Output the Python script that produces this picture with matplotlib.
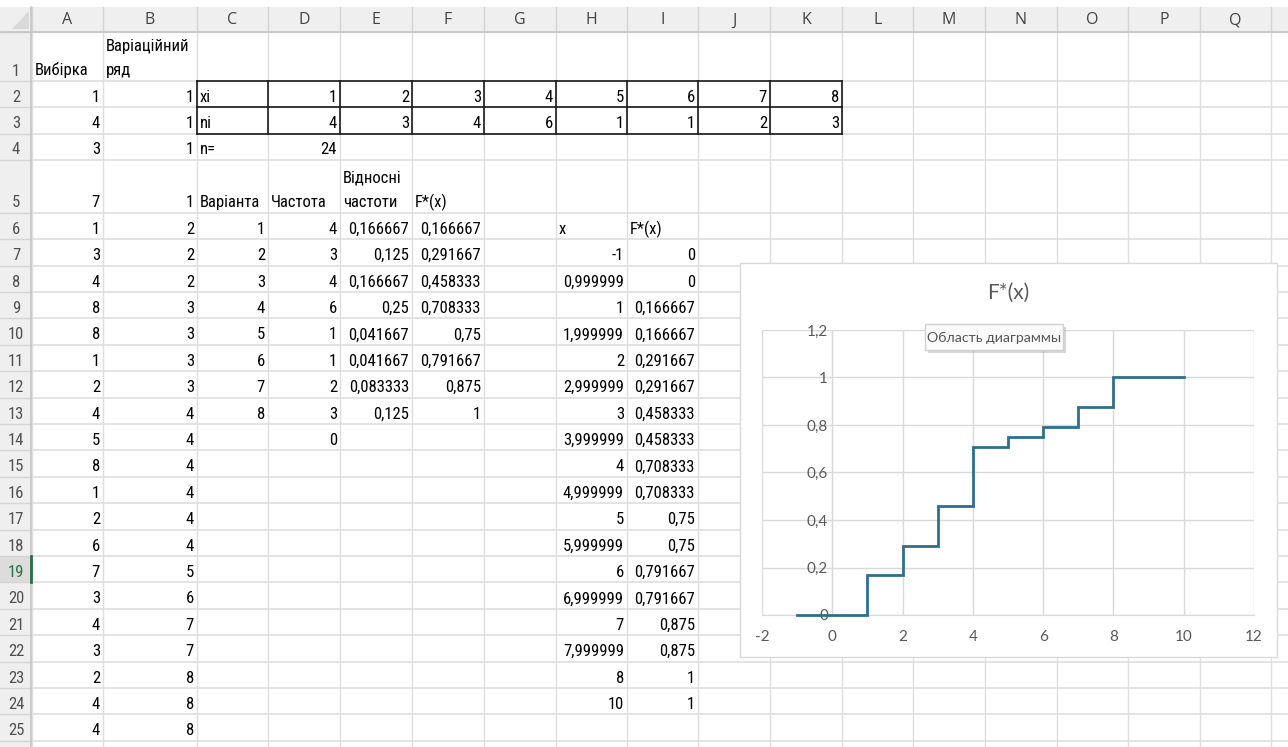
import matplotlib
matplotlib.use("Agg")
import matplotlib.pyplot as plt
from matplotlib.patches import Rectangle, Polygon
from matplotlib.ticker import FuncFormatter

# ---- worksheet contents -------------------------------------------------
col_letters = list("ABCDEFGHIJKLMNOPQ")

sample = [1, 4, 3, 7, 1, 3, 4, 8, 8, 1, 2, 4, 5, 8, 1, 2, 6, 7, 3, 4, 3, 2, 4, 4]
variation_series = [1, 1, 1, 1, 2, 2, 2, 3, 3, 3, 3, 4, 4, 4, 4, 4, 4, 5, 6, 7, 7, 8, 8, 8]

xi = [1, 2, 3, 4, 5, 6, 7, 8]
ni = [4, 3, 4, 6, 1, 1, 2, 3]
n_total = 24

variants = [1, 2, 3, 4, 5, 6, 7, 8]
frequencies = [4, 3, 4, 6, 1, 1, 2, 3, 0]
rel_freq = [0.166667, 0.125, 0.166667, 0.25, 0.041667, 0.041667, 0.083333, 0.125]
cum_freq = [0.166667, 0.291667, 0.458333, 0.708333, 0.75, 0.791667, 0.875, 1]

# points of the empirical distribution function
step_x = [-1, 0.999999, 1, 1.999999, 2, 2.999999, 3, 3.999999, 4, 4.999999,
          5, 5.999999, 6, 6.999999, 7, 7.999999, 8, 10]
step_f = [0, 0, 0.166667, 0.166667, 0.291667, 0.291667, 0.458333, 0.458333,
          0.708333, 0.708333, 0.75, 0.75, 0.791667, 0.791667, 0.875, 0.875, 1, 1]

x_ticks = [-2, 0, 2, 4, 6, 8, 10, 12]
y_ticks = [0, 0.2, 0.4, 0.6, 0.8, 1.0, 1.2]

# ---- grid geometry (pixels) --------------------------------------------
W, H = 1288, 747
col_edges = [32, 103, 197, 268, 340, 412, 484, 556, 627, 698, 770, 842,
             913, 985, 1057, 1128, 1200, 1271]
row_heights = [49, 26.3, 26.3, 26.3, 53] + [26.4] * 21
row_edges = [32]
for h in row_heights:
    row_edges.append(row_edges[-1] + h)
HEAD_TOP = 7

CELL_FONT = ["Liberation Sans Narrow", "Roboto Condensed", "Liberation Sans", "DejaVu Sans"]
HEAD_FONT = ["Open Sans", "DejaVu Sans"]
CHART_FONT = ["Lato", "DejaVu Sans"]


def fmt_general(v):
    s = f"{v:.6f}".rstrip("0").rstrip(".")
    return s.replace(".", ",")


fig = plt.figure(figsize=(W / 100, H / 100), dpi=100)
sheet = fig.add_axes([0, 0, 1, 1])
sheet.set_xlim(0, W)
sheet.set_ylim(H, 0)
sheet.axis("off")

head_bg = "#efefef"
grid_c = "#dedede"
# header strips
sheet.add_patch(Rectangle((0, HEAD_TOP), W, 32 - HEAD_TOP, facecolor=head_bg, edgecolor="none", zorder=1))
sheet.add_patch(Rectangle((0, 32), 31, H - 32, facecolor=head_bg, edgecolor="none", zorder=1))
# corner triangle
sheet.add_patch(Polygon([[29, 11], [29, 29], [12, 29]], closed=True, facecolor="#d9d9d9",
                        edgecolor="none", zorder=2))

# selected row header (row 19)
r19_top, r19_bot = row_edges[18], row_edges[19]
sheet.add_patch(Rectangle((0, r19_top), 31, r19_bot - r19_top, facecolor="#dcdcdc",
                          edgecolor="none", zorder=1.5))

# worksheet gridlines
for x in col_edges:
    sheet.plot([x, x], [32, H], color=grid_c, lw=1, zorder=2)
    sheet.plot([x, x], [HEAD_TOP, 32], color="#d4d4d4", lw=1, zorder=2)
for y in row_edges:
    sheet.plot([32, W], [y, y], color=grid_c, lw=1.2, zorder=2)
    sheet.plot([0, 31], [y, y], color="#d4d4d4", lw=1, zorder=2)
sheet.plot([0, W], [32, 32], color="#c4c4c4", lw=1.2, zorder=2.2)
sheet.plot([31.5, 31.5], [HEAD_TOP, H], color="#c4c4c4", lw=1.2, zorder=2.2)
sheet.plot([31.5, 31.5], [r19_top, r19_bot], color="#217346", lw=2, zorder=2.3)

# column letters and row numbers
for i, letter in enumerate(col_letters):
    cx = (col_edges[i] + col_edges[i + 1]) / 2
    sheet.text(cx, 20.5, letter, ha="center", va="center", fontsize=11.5,
               family=HEAD_FONT, color="#444444", zorder=3)
for r in range(25):
    bot = row_edges[r + 1]
    sheet.text(16, bot - 5.5, str(r + 1), ha="center", va="baseline", fontsize=12,
               family=CELL_FONT, color="#217346" if r == 18 else "#505050", zorder=3)


def put(col, row, text, align="right", line=0):
    """Write text into the cell at column index col (0 = A) and row number row."""
    bot = row_edges[row] - 5.5 - 25 * line
    if align == "right":
        x, ha = col_edges[col + 1] - 3, "right"
    else:
        x, ha = col_edges[col] + 3, "left"
    sheet.text(x, bot, text, ha=ha, va="baseline", fontsize=12, family=CELL_FONT,
               color="#000000", zorder=3)


# row 1 headings
put(0, 1, "Вибірка", "left")
put(1, 1, "Варіаційний", "left", line=1)
put(1, 1, "ряд", "left")

# columns A and B
for i, v in enumerate(sample):
    put(0, i + 2, fmt_general(v))
for i, v in enumerate(variation_series):
    put(1, i + 2, fmt_general(v))

# xi / ni table
put(2, 2, "xi", "left")
put(2, 3, "ni", "left")
for i, (a, b) in enumerate(zip(xi, ni)):
    put(3 + i, 2, fmt_general(a))
    put(3 + i, 3, fmt_general(b))
put(2, 4, "n=", "left")
put(3, 4, fmt_general(n_total))
tb_l, tb_r = col_edges[2], col_edges[11]
tb_t, tb_m, tb_b = row_edges[1], row_edges[2], row_edges[3]
for y in (tb_t, tb_m, tb_b):
    sheet.plot([tb_l, tb_r], [y, y], color="#1a1a1a", lw=1.2, zorder=2.5)
for x in col_edges[2:12]:
    sheet.plot([x, x], [tb_t, tb_b], color="#1a1a1a", lw=1.2, zorder=2.5)

# frequency table
put(2, 5, "Варіанта", "left")
put(3, 5, "Частота", "left")
put(4, 5, "Відносні", "left", line=1)
put(4, 5, "частоти", "left")
put(5, 5, "F*(x)", "left")
for i, v in enumerate(variants):
    put(2, 6 + i, fmt_general(v))
for i, v in enumerate(frequencies):
    put(3, 6 + i, fmt_general(v))
for i, v in enumerate(rel_freq):
    put(4, 6 + i, fmt_general(v))
for i, v in enumerate(cum_freq):
    put(5, 6 + i, fmt_general(v))

# step-function table
put(7, 6, "x", "left")
put(8, 6, "F*(x)", "left")
for i, (a, b) in enumerate(zip(step_x, step_f)):
    put(7, 7 + i, fmt_general(a))
    put(8, 7 + i, fmt_general(b))

# ---- embedded chart ------------------------------------------------------
CH_L, CH_T, CH_R, CH_B = 740, 263, 1277, 657
sheet.add_patch(Rectangle((CH_L, CH_T), CH_R - CH_L, CH_B - CH_T, facecolor="white",
                          edgecolor="#d9d9d9", lw=1, zorder=5))
sheet.text((CH_L + CH_R) / 2, 293, "F*(x)", ha="center", va="center", fontsize=15,
           family=CHART_FONT, color="#595959", zorder=6)

PL, PR, PT, PB = 762, 1254, 330, 615
ax = fig.add_axes([PL / W, 1 - PB / H, (PR - PL) / W, (PB - PT) / H])
ax.set_facecolor("none")
ax.set_xlim(-2, 12)
ax.set_ylim(0, 1.2)
ax.set_xticks(x_ticks)
ax.set_yticks(y_ticks)
comma = FuncFormatter(lambda v, p: fmt_general(round(v, 6)))
ax.xaxis.set_major_formatter(comma)
ax.yaxis.set_major_formatter(comma)
ax.grid(True, color="#d9d9d9", lw=1)
ax.set_axisbelow(True)
for side in ("top", "right"):
    ax.spines[side].set_visible(False)
ax.spines["left"].set_position(("data", 0))
ax.spines["left"].set_color("#d9d9d9")
ax.spines["bottom"].set_color("#d9d9d9")
ax.tick_params(length=0, colors="#595959", labelsize=11)
ax.tick_params(axis="x", pad=11)
ax.tick_params(axis="y", pad=3)
for lab in ax.get_xticklabels() + ax.get_yticklabels():
    lab.set_family(CHART_FONT)
ax.plot(step_x, step_f, color="#2f6f8e", lw=2, solid_joinstyle="miter", zorder=3,
        clip_on=False)

# hover tooltip over the chart
over = fig.add_axes([0, 0, 1, 1])
over.set_xlim(0, W)
over.set_ylim(H, 0)
over.axis("off")
over.add_patch(Rectangle((928, 327), 138, 26, facecolor="#9a9a9a", alpha=0.4, edgecolor="none"))
over.add_patch(Rectangle((925, 324), 138, 26, facecolor="#fbfbfb", edgecolor="#d0d0d0", lw=1))
over.text(994, 337.5, "Область диаграммы", ha="center", va="center", fontsize=10.2,
          family=["Lato", "DejaVu Sans"], color="#555555")

fig.savefig("out.png", dpi=100)
